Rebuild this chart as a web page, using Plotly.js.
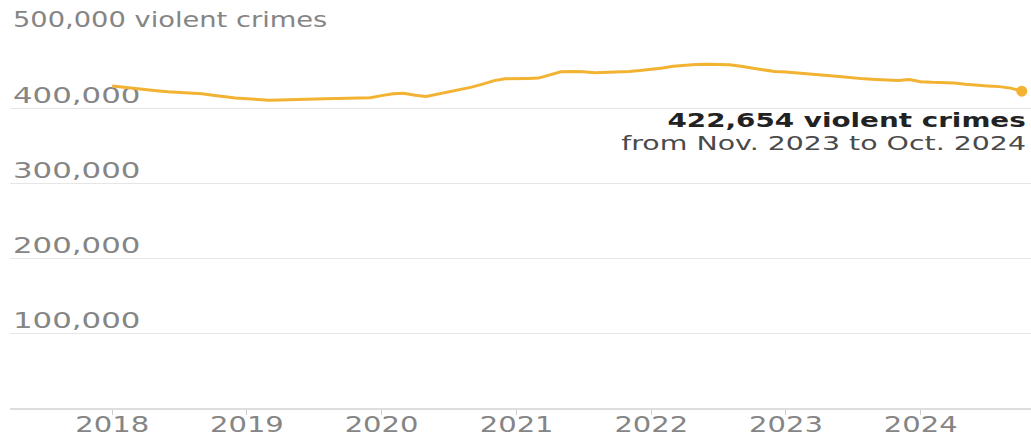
<!DOCTYPE html>
<html>
<head>
<meta charset="utf-8">
<script src="https://cdn.plot.ly/plotly-3.0.1.min.js"></script>
<style>
  html, body { margin: 0; padding: 0; background: #fff; }
  #chart { width: 1031px; height: 444px; }
</style>
</head>
<body>
<div id="chart"></div>
<script>
// Monthly 12-month rolling total of violent crimes, Jan 2018 - Oct 2024
var months = [
  "2018-01-01","2018-02-01","2018-03-01","2018-04-01","2018-05-01","2018-06-01",
  "2018-07-01","2018-08-01","2018-09-01","2018-10-01","2018-11-01","2018-12-01",
  "2019-01-01","2019-02-01","2019-03-01","2019-04-01","2019-05-01","2019-06-01",
  "2019-07-01","2019-08-01","2019-09-01","2019-10-01","2019-11-01","2019-12-01",
  "2020-01-01","2020-02-01","2020-03-01","2020-04-01","2020-05-01","2020-06-01",
  "2020-07-01","2020-08-01","2020-09-01","2020-10-01","2020-11-01","2020-12-01",
  "2021-01-01","2021-02-01","2021-03-01","2021-04-01","2021-05-01","2021-06-01",
  "2021-07-01","2021-08-01","2021-09-01","2021-10-01","2021-11-01","2021-12-01",
  "2022-01-01","2022-02-01","2022-03-01","2022-04-01","2022-05-01","2022-06-01",
  "2022-07-01","2022-08-01","2022-09-01","2022-10-01","2022-11-01","2022-12-01",
  "2023-01-01","2023-02-01","2023-03-01","2023-04-01","2023-05-01","2023-06-01",
  "2023-07-01","2023-08-01","2023-09-01","2023-10-01","2023-11-01","2023-12-01",
  "2024-01-01","2024-02-01","2024-03-01","2024-04-01","2024-05-01","2024-06-01",
  "2024-07-01","2024-08-01","2024-09-01","2024-10-01"
];
var violentCrimes = [
  429500, 427700, 426000, 424800, 423300, 422000,
  421300, 420400, 419300, 417300, 415300, 413700,
  412500, 411300, 410700, 411000, 411600, 412000,
  412400, 412700, 412900, 413300, 413200, 414000,
  416700, 419300, 420000, 417300, 415700, 418700,
  422000, 424700, 428000, 432000, 436700, 439000,
  439700, 439600, 440000, 444000, 448400, 448700,
  448400, 447000, 447300, 448000, 448800, 450000,
  451300, 453600, 455700, 457300, 458000, 458300,
  458300, 457900, 455700, 453300, 450700, 448700,
  448000, 447000, 445300, 444500, 443300, 441700,
  440000, 439000, 438300, 437700, 437000, 438000,
  435300, 434400, 434000, 433600, 432000, 430300,
  429600, 428700, 426700, 422654
];
var yTickVals = [100000, 200000, 300000, 400000, 500000];
var yTickText = ["100,000", "200,000", "300,000", "400,000", "500,000 violent crimes"];
var xTickVals = ["2018-01-01","2019-01-01","2020-01-01","2021-01-01","2022-01-01","2023-01-01","2024-01-01"];
var xTickText = ["2018","2019","2020","2021","2022","2023","2024"];
var calloutTitle = "422,654 violent crimes";
var calloutSub = "from Nov. 2023 to Oct. 2024";

var LINE = "#f2b232";
var FONT = "DejaVu Sans, Liberation Sans, sans-serif";
var last = months.length - 1;

var data = [
  {
    x: months, y: violentCrimes, type: "scatter", mode: "lines",
    line: { color: LINE, width: 3 }, hoverinfo: "x+y", showlegend: false
  },
  {
    x: [months[last]], y: [violentCrimes[last]], type: "scatter", mode: "markers",
    marker: { color: LINE, size: 11 }, hoverinfo: "skip", showlegend: false, cliponaxis: false
  }
];

var layout = {
  width: 1031, height: 444,
  margin: { l: 10, r: 0, t: 33, b: 35 },
  paper_bgcolor: "#ffffff", plot_bgcolor: "#ffffff",
  font: { family: FONT, color: "#888888" },
  showlegend: false,
  xaxis: {
    type: "date",
    range: ["2017-03-30", "2024-10-26"],
    tickmode: "array", tickvals: xTickVals, ticktext: xTickText,
    ticks: "outside", ticklen: 5, tickwidth: 1, tickcolor: "#cccccc",
    ticklabelstandoff: -9,
    showgrid: false, zeroline: false, showline: false,
    tickfont: { family: FONT, size: 22, color: "#858585" },
    fixedrange: true
  },
  yaxis: {
    range: [0, 500000],
    tickmode: "array", tickvals: yTickVals, ticktext: yTickText,
    ticklabelposition: "inside top", ticklabeloverflow: "allow",
    ticklabelshift: 2,
    ticks: "", showgrid: true, gridcolor: "#e6e6e6", gridwidth: 1,
    zeroline: true, zerolinecolor: "#dddddd", zerolinewidth: 1.5,
    showline: false, layer: "below traces",
    tickfont: { family: FONT, size: 22, color: "#858585" },
    fixedrange: true
  },
  annotations: [
    {
      xref: "paper", yref: "y", x: 0.997, y: 384000,
      xanchor: "right", yanchor: "middle", align: "right",
      text: "<b>" + calloutTitle + "</b>", showarrow: false,
      font: { family: FONT, size: 20, color: "#222222" }
    },
    {
      xref: "paper", yref: "y", x: 0.997, y: 354000,
      xanchor: "right", yanchor: "middle", align: "right",
      text: calloutSub, showarrow: false,
      font: { family: FONT, size: 20, color: "#4a4a4a" }
    }
  ]
};

// The reference's typeface is wider than any installed font: widen the glyphs of the text
function widen(el, factor) {
  try {
    var w = el.getComputedTextLength();
    if (w > 0) {
      el.setAttribute("textLength", (w * factor).toFixed(1));
      el.setAttribute("lengthAdjust", "spacingAndGlyphs");
    }
  } catch (e) {}
}
function widenAll(gd) {
  gd.querySelectorAll(".ytick text").forEach(function (t) {
    widen(t, /violent/.test(t.textContent) ? 1.24 : 1.4);
  });
  gd.querySelectorAll(".xtick text").forEach(function (t) { widen(t, 1.32); });
  var ann = gd.querySelectorAll(".annotation-text");
  if (ann[0]) widen(ann[0], 1.39);
  if (ann[1]) widen(ann[1], 1.42);
}

Plotly.newPlot("chart", data, layout, { displayModeBar: false, staticPlot: true })
  .then(function (gd) { widenAll(gd); });
</script>
</body>
</html>
